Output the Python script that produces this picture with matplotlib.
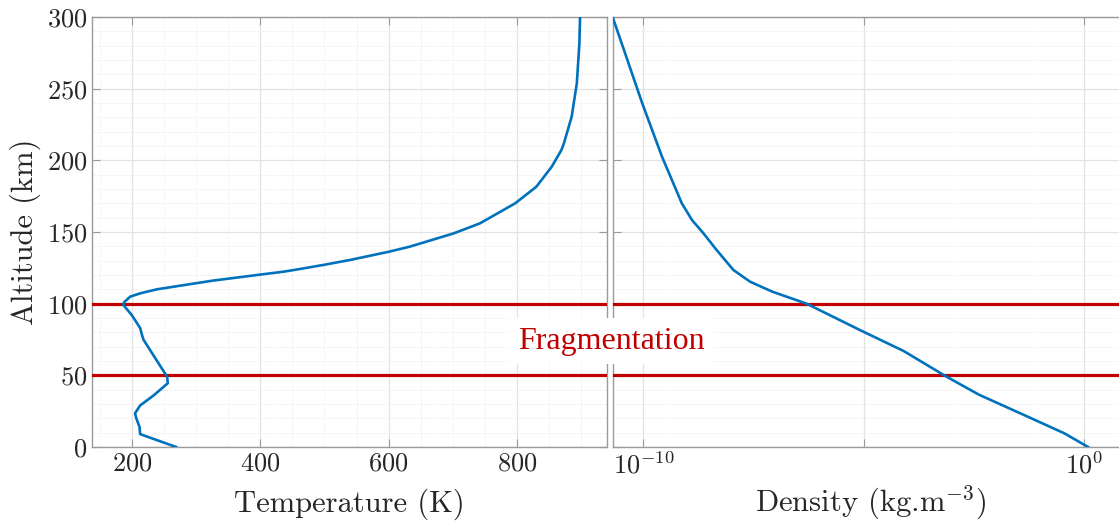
import numpy as np
import matplotlib
matplotlib.use("Agg")
import matplotlib.pyplot as plt
from matplotlib.ticker import MultipleLocator, NullLocator, FixedLocator

plt.rcParams['font.family'] = 'serif'
plt.rcParams['font.serif'] = ['cmr10']
plt.rcParams['mathtext.fontset'] = 'cm'
plt.rcParams['axes.formatter.use_mathtext'] = True
plt.rcParams['axes.unicode_minus'] = False

# temperature profile (altitude km, temperature K)
alt_T = [0, 9, 14, 20, 23.5, 29, 36, 44.5, 49, 75, 78, 83, 92, 99, 101,
         104.9, 107.2, 110, 116, 120, 122.3, 124.2, 127, 130.5, 136.3, 139.8,
         149, 156, 170, 181.6, 195.6, 207.2, 212, 230.5, 253.7, 281.6, 300]
temp = [269, 213, 212, 207, 205, 213, 234, 256, 255, 218, 216, 213, 200, 187,
        188, 197.5, 213, 239, 325, 395, 436, 462, 498, 540, 601, 633,
        701, 742, 797, 830, 854, 869, 873, 885, 893, 897, 898]

# density profile (altitude km, log10 density kg/m^3)
alt_rho = [0, 9.5, 21.1, 36.5, 49.5, 67, 81, 100, 108.4, 115.3, 123.5, 137.4,
           149.1, 158.4, 170, 202.6, 240, 275, 300]
log_rho = [0.085, -0.45, -1.28, -2.39, -3.15, -4.10, -5.05, -6.30, -7.08,
           -7.58, -7.96, -8.34, -8.64, -8.90, -9.13, -9.58, -10.03, -10.42,
           -10.70]
rho = [10 ** v for v in log_rho]

frag_alt = [50, 100]

blue = '#0072BD'
red = '#C00000'
spine_c = '#9a9a9a'
text_c = '#262626'

fig = plt.figure(figsize=(11.19, 5.24), dpi=100)
W, H = 1119, 524
ax1 = fig.add_axes([92 / W, (H - 447) / H, (607 - 92) / W, 430 / H])
ax2 = fig.add_axes([612.6 / W, (H - 447) / H, (1128.4 - 612.6) / W, 430 / H])

for ax in (ax1, ax2):
    for s in ax.spines.values():
        s.set_color(spine_c)
        s.set_linewidth(1.0)
    ax.tick_params(which='both', direction='in', top=True, right=True,
                   color=spine_c, labelcolor=text_c, labelsize=19,
                   length=6)
    ax.tick_params(which='minor', length=0)
    ax.set_ylim(0, 300)
    ax.yaxis.set_major_locator(MultipleLocator(50))
    ax.yaxis.set_minor_locator(MultipleLocator(10))
    ax.grid(which='major', color='#e3e3e3', linewidth=0.9)
    ax.grid(which='minor', color='#e8e8e8', linewidth=0.7, linestyle=':')
    ax.set_axisbelow(True)
    for a in frag_alt:
        ax.axhline(a, color=red, linewidth=2.3, zorder=3)

ax1.plot(temp, alt_T, color=blue, linewidth=1.9, zorder=4,
         solid_joinstyle='round')
ax1.set_xlim(138, 940)
ax1.xaxis.set_major_locator(FixedLocator([200, 400, 600, 800]))
ax1.xaxis.set_minor_locator(MultipleLocator(50))
ax1.set_xlabel('Temperature (K)', fontsize=22, color=text_c, va='baseline')
ax1.set_ylabel('Altitude (km)', fontsize=22, color=text_c, labelpad=4)
ax1.xaxis.set_label_coords(0.5, -0.151)

ax2.plot(rho, alt_rho, color=blue, linewidth=1.9, zorder=4,
         solid_joinstyle='round')
ax2.set_xscale('log')
ax2.set_xlim(10 ** -10.7, 10 ** 1)
ax2.xaxis.set_major_locator(FixedLocator([1e-10, 1e-5, 1e0]))
ax2.set_xticklabels([r'$10^{-10}$', '', r'$10^{0}$'])
ax2.xaxis.set_minor_locator(NullLocator())
ax2.tick_params(labelleft=False)
ax2.set_xlabel(r'Density (kg.m$^{-3}$)', fontsize=22, color=text_c,
               va='baseline')
ax2.xaxis.set_label_coords(0.5, -0.151)

fig.text(611 / W, 1 - 341 / H, 'Fragmentation', color=red,
         family='Liberation Serif', fontsize=23, ha='center', va='center',
         zorder=10,
         bbox=dict(facecolor='white', edgecolor='none', pad=6))

fig.savefig('out.png', dpi=100)
